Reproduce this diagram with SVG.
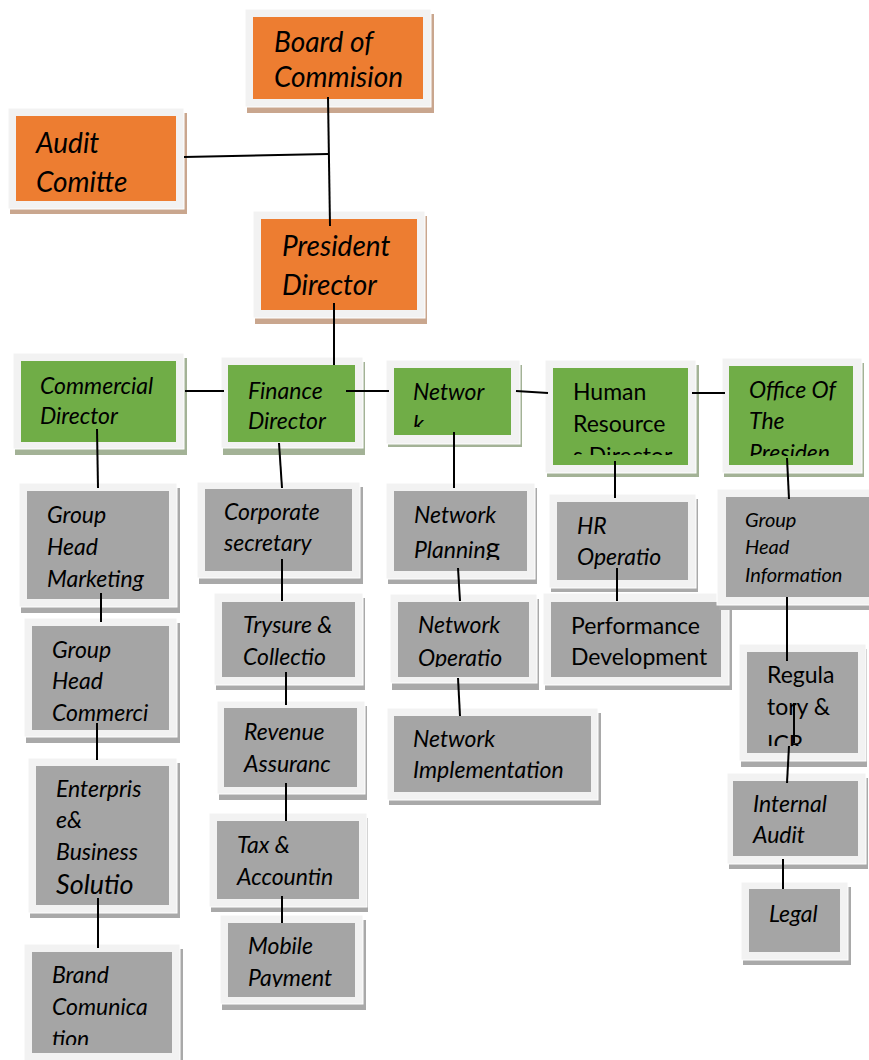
<svg xmlns="http://www.w3.org/2000/svg" width="869" height="1060" viewBox="0 0 869 1060">
<style>
.sh-o{fill:#c9a68e}
.sh-g{fill:#a3b296}
.sh-x{fill:#a9a9a9}
.fr{fill:#f2f2f2;stroke:#ffffff;stroke-width:1}
.in-o{fill:#ed7d31}
.in-g{fill:#70ad47}
.in-x{fill:#a5a5a5}
text{font-family:Lato,"Open Sans","Liberation Sans",sans-serif;fill:#000}
.it{font-style:italic}
.t28{font-size:28px}
.t24{font-size:23px}
.t21{font-size:20px}
.ln{stroke:#000;stroke-width:2;fill:none}
</style>
<defs>
<clipPath id="c-net"><rect x="394" y="368" width="117" height="59"/></clipPath>
<clipPath id="c-hrd"><rect x="553" y="368" width="135" height="87"/></clipPath>
<clipPath id="c-off"><rect x="729" y="366" width="124" height="90"/></clipPath>
<clipPath id="c-ghc"><rect x="32" y="626" width="137" height="96"/></clipPath>
<clipPath id="c-ent"><rect x="36" y="766" width="133" height="130"/></clipPath>
<clipPath id="c-brd"><rect x="32" y="952" width="140" height="93"/></clipPath>
<clipPath id="c-mob"><rect x="228" y="923" width="127" height="64"/></clipPath>
<clipPath id="c-npl"><rect x="394" y="491" width="133" height="69"/></clipPath>
<clipPath id="c-nop"><rect x="398" y="602" width="131" height="65"/></clipPath>
<clipPath id="c-reg"><rect x="747" y="652" width="111" height="94"/></clipPath>
</defs>

<g id="board">
<rect class="sh-o" x="247" y="14" width="187" height="99"/>
<rect class="fr" x="245" y="9" width="186" height="98"/>
<rect class="in-o" x="253" y="17" width="170" height="82"/>
<text class="it t28"><tspan x="274" y="52">Board of</tspan><tspan x="274" y="87">Commision</tspan></text>
</g>

<g id="audit">
<rect class="sh-o" x="10" y="113" width="177" height="101"/>
<rect class="fr" x="8" y="108" width="176" height="101"/>
<rect class="in-o" x="16" y="116" width="160" height="85"/>
<text class="it t28"><tspan x="36" y="153">Audit</tspan><tspan x="36" y="192">Comitte</tspan></text>
</g>

<g id="president">
<rect class="sh-o" x="255" y="216" width="172" height="108"/>
<rect class="fr" x="253" y="211" width="172" height="107"/>
<rect class="in-o" x="261" y="219" width="156" height="91"/>
<text class="it t28"><tspan x="282" y="256">President</tspan><tspan x="282" y="295">Director</tspan></text>
</g>

<g id="commercial">
<rect class="sh-g" x="15" y="358" width="172" height="97"/>
<rect class="fr" x="13" y="353" width="171" height="96"/>
<rect class="in-g" x="21" y="361" width="155" height="81"/>
<text class="it t24"><tspan x="40" y="394">Commercial</tspan><tspan x="40" y="424">Director</tspan></text>
</g>

<g id="finance">
<rect class="sh-g" x="223" y="362" width="142" height="93"/>
<rect class="fr" x="221" y="357" width="142" height="91"/>
<rect class="in-g" x="228" y="365" width="127" height="77"/>
<text class="it t24"><tspan x="248" y="399">Finance</tspan><tspan x="248" y="429">Director</tspan></text>
</g>

<g id="network">
<rect class="sh-g" x="388" y="365" width="134" height="82"/>
<rect class="fr" x="386" y="360" width="134" height="84"/>
<rect class="in-g" x="394" y="368" width="117" height="67"/>
<text class="it t24" clip-path="url(#c-net)"><tspan x="413" y="400">Networ</tspan><tspan x="413" y="432">k</tspan></text>
</g>

<g id="hrdirector">
<rect class="sh-g" x="547" y="365" width="152" height="112"/>
<rect class="fr" x="545" y="360" width="151" height="113"/>
<rect class="in-g" x="553" y="368" width="135" height="97"/>
<text class="t24" clip-path="url(#c-hrd)"><tspan x="573" y="400">Human</tspan><tspan x="573" y="432">Resource</tspan><tspan x="573" y="464">s Director</tspan></text>
</g>

<g id="office">
<rect class="sh-g" x="724" y="363" width="140" height="114"/>
<rect class="fr" x="722" y="358" width="140" height="115"/>
<rect class="in-g" x="729" y="366" width="124" height="99"/>
<text class="it t24" clip-path="url(#c-off)"><tspan x="749" y="398">Office Of</tspan><tspan x="749" y="429">The</tspan><tspan x="749" y="461">Presiden</tspan></text>
</g>

<g id="gh-marketing">
<rect class="sh-x" x="21" y="488" width="159" height="125"/>
<rect class="fr" x="19" y="483" width="158" height="124"/>
<rect class="in-x" x="27" y="491" width="142" height="108"/>
<text class="it t24"><tspan x="47" y="523">Group</tspan><tspan x="47" y="555">Head</tspan><tspan x="47" y="587">Marketing</tspan></text>
</g>

<g id="gh-commercial">
<rect class="sh-x" x="26" y="623" width="154" height="120"/>
<rect class="fr" x="24" y="618" width="153" height="119"/>
<rect class="in-x" x="32" y="626" width="137" height="104"/>
<text class="it t24" clip-path="url(#c-ghc)"><tspan x="52" y="658">Group</tspan><tspan x="52" y="689">Head</tspan><tspan x="52" y="721">Commerci</tspan></text>
</g>

<g id="enterprise">
<rect class="sh-x" x="30" y="763" width="150" height="155"/>
<rect class="fr" x="28" y="758" width="149" height="155"/>
<rect class="in-x" x="36" y="766" width="133" height="139"/>
<text class="it t24" clip-path="url(#c-ent)"><tspan x="56" y="797">Enterpris</tspan><tspan x="56" y="828">e&amp;</tspan><tspan x="56" y="860">Business</tspan><tspan x="56" y="894" font-size="27">Solutio</tspan></text>
</g>

<g id="brand">
<rect class="sh-x" x="26" y="949" width="157" height="115"/>
<rect class="fr" x="24" y="944" width="156" height="120"/>
<rect class="in-x" x="32" y="952" width="140" height="101"/>
<text class="it t24" clip-path="url(#c-brd)"><tspan x="52" y="983">Brand</tspan><tspan x="52" y="1015">Comunica</tspan><tspan x="52" y="1047">tion</tspan></text>
</g>

<g id="corporate">
<rect class="sh-x" x="199" y="487" width="164" height="97"/>
<rect class="fr" x="197" y="482" width="163" height="96"/>
<rect class="in-x" x="205" y="489" width="147" height="82"/>
<text class="it t24"><tspan x="224" y="520">Corporate</tspan><tspan x="224" y="551">secretary</tspan></text>
</g>

<g id="trysure">
<rect class="sh-x" x="216" y="598" width="149" height="92"/>
<rect class="fr" x="214" y="593" width="149" height="92"/>
<rect class="in-x" x="222" y="602" width="133" height="75"/>
<text class="it t24"><tspan x="243" y="633">Trysure &amp;</tspan><tspan x="243" y="665">Collectio</tspan></text>
</g>

<g id="revenue">
<rect class="sh-x" x="219" y="706" width="148" height="94"/>
<rect class="fr" x="217" y="701" width="148" height="93"/>
<rect class="in-x" x="224" y="708" width="133" height="79"/>
<text class="it t24"><tspan x="244" y="740">Revenue</tspan><tspan x="244" y="772">Assuranc</tspan></text>
</g>

<g id="tax">
<rect class="sh-x" x="211" y="818" width="157" height="94"/>
<rect class="fr" x="209" y="813" width="158" height="94"/>
<rect class="in-x" x="217" y="821" width="142" height="78"/>
<text class="it t24"><tspan x="237" y="853">Tax &amp;</tspan><tspan x="237" y="885">Accountin</tspan></text>
</g>

<g id="mobile">
<rect class="sh-x" x="222" y="920" width="144" height="90"/>
<rect class="fr" x="220" y="915" width="143" height="89"/>
<rect class="in-x" x="228" y="923" width="127" height="74"/>
<text class="it t24" clip-path="url(#c-mob)"><tspan x="248" y="954">Mobile</tspan><tspan x="248" y="986">Payment</tspan></text>
</g>

<g id="net-planning">
<rect class="sh-x" x="388" y="488" width="149" height="96"/>
<rect class="fr" x="386" y="483" width="149" height="96"/>
<rect class="in-x" x="394" y="491" width="133" height="80"/>
<text class="it t24" clip-path="url(#c-npl)"><tspan x="414" y="523">Network</tspan><tspan x="414" y="558">Plannin<tspan font-style="normal" font-size="28">g</tspan></tspan></text>
</g>

<g id="net-operation">
<rect class="sh-x" x="392" y="599" width="147" height="91"/>
<rect class="fr" x="390" y="594" width="147" height="89"/>
<rect class="in-x" x="398" y="602" width="131" height="75"/>
<text class="it t24" clip-path="url(#c-nop)"><tspan x="418" y="633">Network</tspan><tspan x="418" y="666">Operatio</tspan></text>
</g>

<g id="net-implementation">
<rect class="sh-x" x="389" y="713" width="212" height="92"/>
<rect class="fr" x="387" y="708" width="211" height="92"/>
<rect class="in-x" x="394" y="716" width="197" height="76"/>
<text class="it t24"><tspan x="413" y="747">Network</tspan><tspan x="413" y="778">Implementation</tspan></text>
</g>

<g id="hr-operation">
<rect class="sh-x" x="551" y="499" width="147" height="93"/>
<rect class="fr" x="549" y="494" width="147" height="94"/>
<rect class="in-x" x="557" y="502" width="131" height="78"/>
<text class="it t24"><tspan x="577" y="534">HR</tspan><tspan x="577" y="565">Operatio</tspan></text>
</g>

<g id="performance">
<rect class="sh-x" x="545" y="598" width="187" height="92"/>
<rect class="fr" x="543" y="593" width="186" height="92"/>
<rect class="in-x" x="551" y="602" width="170" height="75"/>
<text class="t24"><tspan x="571" y="634">Performance</tspan><tspan x="571" y="665">Development</tspan></text>
</g>

<g id="gh-information">
<rect class="sh-x" x="719" y="494" width="152" height="116"/>
<rect class="fr" x="717" y="489" width="154" height="116"/>
<rect class="in-x" x="726" y="497" width="145" height="100"/>
<text class="it t21"><tspan x="745" y="527">Group</tspan><tspan x="745" y="554">Head</tspan><tspan x="745" y="582">Information</tspan></text>
</g>

<g id="regulatory">
<rect class="sh-x" x="741" y="649" width="126" height="118"/>
<rect class="fr" x="739" y="644" width="127" height="117"/>
<rect class="in-x" x="747" y="652" width="111" height="101"/>
<text class="t24" clip-path="url(#c-reg)"><tspan x="767" y="683">Regula</tspan><tspan x="767" y="715">tory &amp;</tspan><tspan x="767" y="752">ICR</tspan></text>
</g>

<g id="internal-audit">
<rect class="sh-x" x="729" y="778" width="139" height="91"/>
<rect class="fr" x="727" y="773" width="139" height="91"/>
<rect class="in-x" x="733" y="781" width="125" height="75"/>
<text class="it t24"><tspan x="753" y="812">Internal</tspan><tspan x="753" y="843">Audit</tspan></text>
</g>

<g id="legal">
<rect class="sh-x" x="743" y="887" width="108" height="78"/>
<rect class="fr" x="741" y="882" width="107" height="78"/>
<rect class="in-x" x="749" y="889" width="91" height="63"/>
<text class="it t24"><tspan x="769" y="922">Legal</tspan></text>
</g>

<g id="connectors">
<polyline class="ln" points="328,97 330,226"/>
<polyline class="ln" points="184,157 328,154"/>
<polyline class="ln" points="334,303 334,365"/>
<polyline class="ln" points="185,391 224,391"/>
<polyline class="ln" points="346,391 389,391"/>
<polyline class="ln" points="516,391 548,393"/>
<polyline class="ln" points="692,393 725,393"/>
<polyline class="ln" points="97,429 98,488"/>
<polyline class="ln" points="279,443 282,488"/>
<polyline class="ln" points="454,432 454,488"/>
<polyline class="ln" points="615,461 615,498"/>
<polyline class="ln" points="787,458 789,499"/>
<polyline class="ln" points="101,593 101,622"/>
<polyline class="ln" points="97,723 97,760"/>
<polyline class="ln" points="98,898 98,948"/>
<polyline class="ln" points="282,559 282,601"/>
<polyline class="ln" points="286,672 286,705"/>
<polyline class="ln" points="286,783 286,821"/>
<polyline class="ln" points="282,896 282,923"/>
<polyline class="ln" points="458,568 460,601"/>
<polyline class="ln" points="458,678 460,716"/>
<polyline class="ln" points="617,568 617,601"/>
<polyline class="ln" points="787,597 787,661"/>
<polyline class="ln" points="794,703 794,743"/>
<polyline class="ln" points="789,746 787,783"/>
<polyline class="ln" points="783,859 783,889"/>
</g>
</svg>
